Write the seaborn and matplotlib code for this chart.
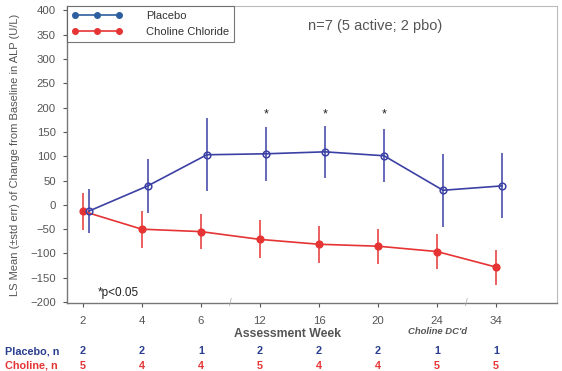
import matplotlib
matplotlib.use("Agg")
import matplotlib.pyplot as plt
from matplotlib.lines import Line2D
import numpy as np
import pandas as pd
import seaborn as sns

# Данные
weeks = ["2", "4", "6", "12", "16", "20", "24", "34"]
placebo_mean = [-13, 39, 103, 105, 109, 101, 30, 39]
placebo_err = [45, 55, 75, 55, 54, 55, 75, 67]
choline_mean = [-13, -50, -55, -71, -81, -85, -96, -128]
choline_err = [38, 38, 36, 39, 38, 36, 36, 36]
placebo_n = [2, 2, 1, 2, 2, 2, 1, 1]
choline_n = [5, 4, 4, 5, 4, 4, 5, 5]
signif_weeks = ["12", "16", "20"]

PBO = "#3b40a4"
CHO = "#e63434"
GREY = "#555555"

sns.set_theme(style="white")
plt.rcParams["font.family"] = ["Liberation Sans", "DejaVu Sans"]

idx = np.arange(len(weeks))
df = pd.DataFrame({
    "pos": np.concatenate([idx + 0.1, idx]),
    "mean": placebo_mean + choline_mean,
    "err": placebo_err + choline_err,
    "group": ["Placebo"] * len(weeks) + ["Choline Chloride"] * len(weeks),
})

fig = plt.figure(figsize=(5.62, 3.71), dpi=100)
ax = fig.add_axes([0.119, 0.183, 0.872, 0.801])

for grp, color, mfc in [("Choline Chloride", CHO, CHO), ("Placebo", PBO, "none")]:
    sub = df[df["group"] == grp]
    ax.errorbar(sub["pos"], sub["mean"], yerr=sub["err"], fmt="none",
                ecolor=color, elinewidth=1.1, capsize=0, zorder=2)
    sns.lineplot(data=sub, x="pos", y="mean", ax=ax, color=color,
                 linewidth=1.2, marker="o", markersize=4.8,
                 markerfacecolor=mfc, markeredgecolor=color,
                 markeredgewidth=1.1, legend=False, zorder=3)

# значимые точки
for w in signif_weeks:
    i = weeks.index(w)
    ax.text(i + 0.1, 174, "*", ha="center", va="bottom", fontsize=9, color="#222222")

ax.set_xlim(-0.27, 8.03)
ax.set_ylim(-202, 409)
ax.set_xticks(idx)
ax.set_xticklabels(weeks)
ax.set_yticks(range(-200, 401, 50))
ax.set_xlabel("")
ax.set_ylabel("LS Mean (±std err) of Change from Baseline in ALP (U/L)",
              fontsize=8, color=GREY, labelpad=7)
ax.tick_params(axis="both", labelsize=8.2, colors=GREY, length=3, width=0.8,
               direction="out", bottom=True, left=True)
ax.tick_params(axis="x", pad=6)
ax.tick_params(axis="y", pad=5)
for side in ["left", "bottom"]:
    ax.spines[side].set_color("#777777")
    ax.spines[side].set_linewidth(1.0)
for side in ["top", "right"]:
    ax.spines[side].set_color("#bbbbbb")
    ax.spines[side].set_linewidth(0.8)

# разрывы оси
for xb in [2.5, 6.5]:
    ax.text(xb, -202, "/", ha="center", va="center", fontsize=7, color="#aaaaaa",
            clip_on=False)

handles = [
    Line2D([], [], color="#2d5fa0", marker="o", markersize=4, linewidth=1.2),
    Line2D([], [], color=CHO, marker="o", markersize=4, linewidth=1.2),
]
leg = ax.legend(handles, ["Placebo", "Choline Chloride"], loc="upper left",
                bbox_to_anchor=(0, 1), borderaxespad=0, numpoints=3,
                handlelength=4.5, handletextpad=2.2, fontsize=8,
                frameon=True, fancybox=False, edgecolor="#555555",
                borderpad=0.45, labelspacing=0.55)
leg.get_frame().set_linewidth(0.8)
for t in leg.get_texts():
    t.set_color("#333333")

ax.text(0.492, 0.933, "n=7 (5 active; 2 pbo)", transform=ax.transAxes,
        fontsize=10.5, color=GREY, ha="left", va="center")
ax.text(0.063, 0.035, "*p<0.05", transform=ax.transAxes,
        fontsize=8.5, color="#222222", ha="left", va="center")

# подписи под осью
fig.text(287 / 562, 1 - 334 / 371, "Assessment Week", ha="center", va="center",
         fontsize=8.8, fontweight="bold", color=GREY)
x24 = ax.transData.transform((6, 0))[0]
fig.text(x24 / fig.bbox.width, 1 - 332 / 371, "Choline DC'd", ha="center",
         va="center", fontsize=6.8, style="italic", fontweight="bold", color=GREY)

fig.text(5 / 562, 1 - 351 / 371, "Placebo, n", ha="left", va="center",
         fontsize=7.8, fontweight="bold", color="#2a3f8f")
fig.text(5 / 562, 1 - 366 / 371, "Choline, n", ha="left", va="center",
         fontsize=7.8, fontweight="bold", color=CHO)
for i in idx:
    xf = ax.transData.transform((i, 0))[0]
    fig.text(xf / fig.bbox.width, 1 - 351 / 371, str(placebo_n[i]), ha="center",
             va="center", fontsize=7.8, fontweight="bold", color="#2a3f8f")
    fig.text(xf / fig.bbox.width, 1 - 366 / 371, str(choline_n[i]), ha="center",
             va="center", fontsize=7.8, fontweight="bold", color=CHO)

fig.savefig("out.png", dpi=100)
